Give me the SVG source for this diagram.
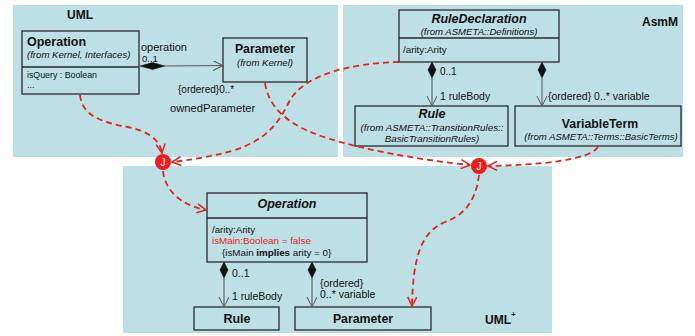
<svg xmlns="http://www.w3.org/2000/svg" width="695" height="336" viewBox="0 0 695 336">
  <style>
    .panel { fill: #bce0e4; stroke: none; }
    .box { fill: none; stroke: #2a2a2a; stroke-width: 1.3; }
    .t { font-family: "Liberation Sans", Arial, sans-serif; fill: #111; }
    .b { font-weight: bold; }
    .i { font-style: italic; }
    .assoc { fill: none; stroke: #555; stroke-width: 1; }
    .dia { fill: #111; stroke: #111; stroke-width: 0.5; }
    .dep { fill: none; stroke: #e52421; stroke-width: 1.8; stroke-dasharray: 6 4; }
    .jn { fill: #ee1c1c; }
  </style>
  <defs>
    <marker id="open" markerWidth="12" markerHeight="12" refX="10" refY="5" orient="auto" markerUnits="userSpaceOnUse">
      <path d="M0,0 L10,5 L0,10" fill="none" stroke="#555" stroke-width="1"/>
    </marker>
    <marker id="redopen" markerWidth="12" markerHeight="12" refX="10" refY="5" orient="auto" markerUnits="userSpaceOnUse">
      <path d="M1,0.5 L10,5 L1,9.5" fill="none" stroke="#e52421" stroke-width="1.5"/>
    </marker>
  </defs>

  <rect width="695" height="336" fill="#ffffff"/>

  <!-- packages -->
  <g id="pkg-uml">
    <rect class="panel" x="13" y="5" width="325" height="152"/>
    <text class="t b" x="67" y="19" font-size="12">UML</text>
  </g>
  <g id="pkg-asmm">
    <rect class="panel" x="343" y="5" width="340" height="152"/>
    <text class="t b" x="642" y="26" font-size="12">AsmM</text>
  </g>
  <g id="pkg-umlplus">
    <rect class="panel" x="123" y="166" width="429" height="167"/>
    <text class="t b" x="485" y="324" font-size="12">UML<tspan font-size="8" dy="-7">+</tspan></text>
  </g>

  <!-- UML package classes -->
  <g id="uml-operation">
    <rect class="box" x="22" y="31" width="117" height="63"/>
    <line class="box" x1="22" y1="67" x2="139" y2="67"/>
    <text class="t b" x="27" y="46" font-size="12.5">Operation</text>
    <text class="t i" x="27" y="58" font-size="9.6">(from Kernel, Interfaces)</text>
    <text class="t" x="27" y="78" font-size="8.8">isQuery : Boolean</text>
    <text class="t" x="27" y="88" font-size="8.8">...</text>
  </g>
  <g id="uml-parameter">
    <rect class="box" x="223" y="38" width="84" height="44"/>
    <text class="t b" x="265" y="53" font-size="12.3" text-anchor="middle">Parameter</text>
    <text class="t i" x="265" y="66" font-size="9.6" text-anchor="middle">(from Kernel)</text>
  </g>

  <!-- AsmM package classes -->
  <g id="asmm-ruledeclaration">
    <rect class="box" x="399" y="10" width="160" height="52"/>
    <line class="box" x1="399" y1="38" x2="559" y2="38"/>
    <text class="t b i" x="479" y="23" font-size="12.5" text-anchor="middle">RuleDeclaration</text>
    <text class="t i" x="479" y="35" font-size="9.6" text-anchor="middle">(from ASMETA::Definitions)</text>
    <text class="t" x="403" y="53" font-size="9.8">/arity:Arity</text>
  </g>
  <g id="asmm-rule">
    <rect class="box" x="355" y="106" width="153" height="40"/>
    <text class="t b i" x="432" y="118" font-size="12.5" text-anchor="middle">Rule</text>
    <text class="t i" x="432" y="131" font-size="9.8" text-anchor="middle">(from ASMETA::TransitionRules::</text>
    <text class="t i" x="432" y="142" font-size="9.8" text-anchor="middle">BasicTransitionRules)</text>
  </g>
  <g id="asmm-variableterm">
    <rect class="box" x="515" y="106" width="166" height="40"/>
    <text class="t b" x="600" y="128" font-size="12.3" text-anchor="middle">VariableTerm</text>
    <text class="t i" x="601" y="140" font-size="9.6" text-anchor="middle">(from ASMETA::Terms::BasicTerms)</text>
  </g>

  <!-- UML+ package classes -->
  <g id="umlp-operation">
    <rect class="box" x="207" y="193" width="160" height="69"/>
    <line class="box" x1="207" y1="218" x2="367" y2="218"/>
    <text class="t b i" x="287" y="208" font-size="12.5" text-anchor="middle">Operation</text>
    <text class="t" x="212" y="233" font-size="9.7">/arity:Arity</text>
    <text class="t" x="212" y="244" font-size="9.8" fill="#e52421" style="fill:#e52421">isMain:Boolean = false</text>
    <text class="t" x="222" y="256" font-size="9.8">{isMain <tspan font-weight="bold">implies</tspan> arity = 0}</text>
  </g>
  <g id="umlp-rule">
    <rect class="box" x="194" y="307" width="85" height="23"/>
    <text class="t b" x="237" y="323" font-size="12.5" text-anchor="middle">Rule</text>
  </g>
  <g id="umlp-parameter">
    <rect class="box" x="295" y="307" width="136" height="23"/>
    <text class="t b" x="363" y="323" font-size="12.3" text-anchor="middle">Parameter</text>
  </g>

  <!-- merge junctions -->
  <g id="join-left">
    <circle class="jn" cx="163" cy="162" r="8"/>
    <text class="t" x="163" y="166" font-size="10" fill="#fff" style="fill:#fff" text-anchor="middle">J</text>
  </g>
  <g id="join-right">
    <circle class="jn" cx="479" cy="166" r="8"/>
    <text class="t" x="479" y="170" font-size="10" fill="#fff" style="fill:#fff" text-anchor="middle">J</text>
  </g>

  <!-- connectors -->
  <g id="connectors">
    <!-- composite associations -->
    <line class="assoc" x1="165" y1="66" x2="223" y2="65.5" marker-end="url(#open)"/>
    <polygon class="dia" points="140,66 152.5,62.5 165,66 152.5,69.5"/>
    <text class="t" x="141" y="51" font-size="11">operation</text>
    <text class="t" x="142" y="61.5" font-size="9.5">0..1</text>
    <text class="t" x="178" y="93" font-size="10">{ordered}0..*</text>
    <text class="t" x="170" y="112" font-size="11.2">ownedParameter</text>

    <line class="assoc" x1="432" y1="78" x2="432" y2="106" marker-end="url(#open)"/>
    <polygon class="dia" points="432,62 436,70 432,78 428,70"/>
    <text class="t" x="440" y="75" font-size="10">0..1</text>
    <text class="t" x="440" y="100" font-size="10.5">1 ruleBody</text>

    <line class="assoc" x1="542" y1="78" x2="542" y2="106" marker-end="url(#open)"/>
    <polygon class="dia" points="542,62 546,70 542,78 538,70"/>
    <text class="t" x="548" y="100" font-size="10.5">{ordered} 0..*  variable</text>

    <line class="assoc" x1="224" y1="278" x2="224" y2="307" marker-end="url(#open)"/>
    <polygon class="dia" points="224,262 228,270 224,278 220,270"/>
    <text class="t" x="232" y="277" font-size="10.5">0..1</text>
    <text class="t" x="232" y="300" font-size="10.5">1 ruleBody</text>

    <line class="assoc" x1="312" y1="278" x2="312" y2="307" marker-end="url(#open)"/>
    <polygon class="dia" points="312,262 316,270 312,278 308,270"/>
    <text class="t" x="320" y="287" font-size="10.5">{ordered}</text>
    <text class="t" x="320" y="298" font-size="10.5">0..*  variable</text>

    <!-- merge dependencies -->
    <path class="dep" d="M80,95 C82,115 100,122 128,127 C148,131 160,140 162,153" marker-end="url(#redopen)"/>
    <path class="dep" d="M399,62 C350,63 305,75 290,100 C278,125 265,140 235,150 C210,157 190,160 172,162" marker-end="url(#redopen)"/>
    <path class="dep" d="M265,83 C268,105 285,122 313,133 C350,148 420,160 470,165" marker-end="url(#redopen)"/>
    <path class="dep" d="M598,147 C590,160 540,165 488,166" marker-end="url(#redopen)"/>
    <path class="dep" d="M163,171 C165,190 180,205 206,210" marker-end="url(#redopen)"/>
    <path class="dep" d="M479,175 C476,200 465,215 445,222 C420,232 413,260 412,306" marker-end="url(#redopen)"/>
  </g>
</svg>
